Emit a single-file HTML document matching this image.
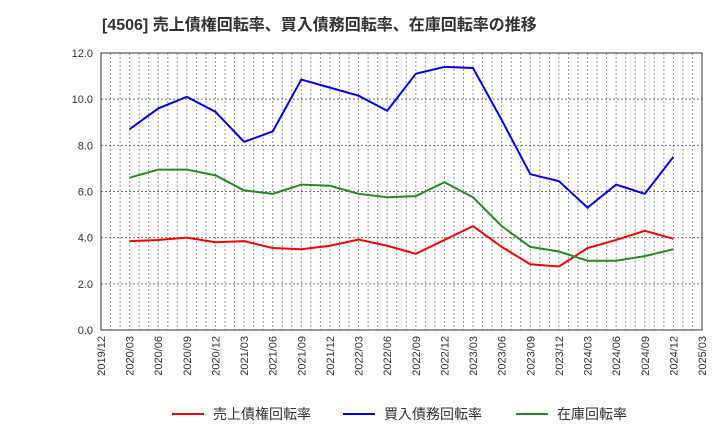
<!DOCTYPE html>
<html><head><meta charset="utf-8">
<style>
body{margin:0;background:#fff;font-family:"Liberation Sans","Noto Sans CJK JP",sans-serif;}
svg text{font-family:"Liberation Sans","Noto Sans CJK JP",sans-serif;}
</style></head>
<body>
<svg id="chart" width="720" height="440" xmlns="http://www.w3.org/2000/svg">
<text x="102" y="30" font-size="16" font-weight="bold" fill="#333">[4506]  売上債権回転率、買入債務回転率、在庫回転率の推移</text>
<g id="grid"></g><g id="axes"></g><g id="series"></g>
<g id="legend"></g>
</svg>
<script>
const categories=["2019/12","2020/03","2020/06","2020/09","2020/12","2021/03","2021/06","2021/09","2021/12","2022/03","2022/06","2022/09","2022/12","2023/03","2023/06","2023/09","2023/12","2024/03","2024/06","2024/09","2024/12","2025/03"];
const receivables=[null,3.85,3.9,4.0,3.8,3.85,3.55,3.5,3.65,3.92,3.65,3.3,3.9,4.5,3.6,2.85,2.75,3.55,3.9,4.3,3.95,null];
const payables=[null,8.7,9.6,10.1,9.45,8.15,8.6,10.85,10.5,10.15,9.5,11.1,11.4,11.35,9.1,6.75,6.45,5.3,6.3,5.9,7.5,null];
const inventory=[null,6.6,6.95,6.95,6.7,6.05,5.9,6.3,6.25,5.9,5.75,5.8,6.4,5.75,4.5,3.6,3.4,3.0,3.0,3.2,3.5,null];
const yTicks=[0,2,4,6,8,10,12];
const seriesNames=["売上債権回転率","買入債務回転率","在庫回転率"];
const seriesColors=["#ff0000","#0000ff","#228b22"];
const L=101,R=702,T=53,B=330,NS="http://www.w3.org/2000/svg";
const xs=i=>L+(R-L)*i/(categories.length-1);
const ys=v=>B-(B-T)*v/12;
function mk(tag,attrs,parent){const e=document.createElementNS(NS,tag);for(const k in attrs)e.setAttribute(k,attrs[k]);parent.appendChild(e);return e;}
const grid=document.getElementById('grid'),axes=document.getElementById('axes'),ser=document.getElementById('series'),leg=document.getElementById('legend');
const nMonths=(categories.length-1)*3;
for(let m=1;m<nMonths;m++){const x=L+(R-L)*m/nMonths;const l=mk('line',{x1:x,x2:x,y1:T,y2:B,stroke:'#999','stroke-dasharray':'2,2','stroke-width':1},grid);

}
yTicks.forEach(v=>{const y=ys(v);
if(v>0&&v<12){const l=mk('line',{x1:L,x2:R,y1:y,y2:y,stroke:'#777','stroke-dasharray':'2,2','stroke-width':1},grid);

}
const t=mk('text',{x:L-8,y:y+4,'text-anchor':'end','font-size':11,fill:'#333'},axes);t.textContent=v.toFixed(1);

});
const fr=mk('rect',{x:L,y:T,width:R-L,height:B-T,fill:'none',stroke:'#333','stroke-width':1},axes);


categories.forEach((c,i)=>{const x=xs(i),y=B+6;const t=mk('text',{x:x+4,y:y,'text-anchor':'end','font-size':11,fill:'#333',transform:`rotate(-90 ${x+4} ${y})`},axes);t.textContent=c;

});
[receivables,payables,inventory].forEach((arr,si)=>{let d='';arr.forEach((v,i)=>{if(v==null)return;d+=(d?'L':'M')+xs(i)+','+ys(v);});
const p=mk('path',{d:d,fill:'none',stroke:seriesColors[si],'stroke-width':2},ser);

});
const lx=[172,343,516];
seriesNames.forEach((n,i)=>{const g=mk('g',{},leg);


mk('line',{x1:lx[i],x2:lx[i]+32,y1:414,y2:414,stroke:seriesColors[i],'stroke-width':2},g);
const t=mk('text',{x:lx[i]+41,y:419,'font-size':14,fill:'#333'},g);t.textContent=n;});
</script>
</body></html>
